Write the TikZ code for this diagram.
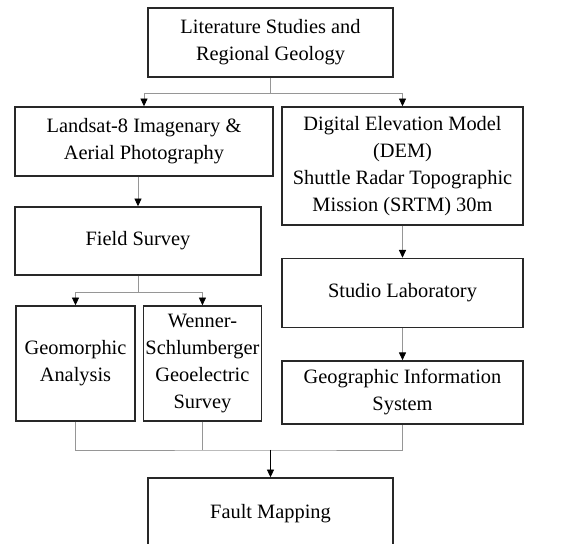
\documentclass[tikz,border=0pt]{standalone}
\usepackage{fontspec}
\setmainfont{Liberation Serif}
\usetikzlibrary{arrows.meta,positioning}
\definecolor{linegray}{RGB}{150,150,150}
\definecolor{boxline}{RGB}{40,40,40}

\begin{document}
\begin{tikzpicture}[x=0.025cm,y=-0.025cm,>={Triangle[length=5.5pt,width=5pt,color=black]},font=\fontsize{14.5}{19.3}\selectfont]
 \tikzstyle{box}=[draw=boxline,line width=1pt,align=center,inner sep=2pt]
 \tikzstyle{link}=[draw=linegray,line width=0.6pt]

 \useasboundingbox (0,0) rectangle (567,544);

   \node[box,minimum width=6.125cm,minimum height=1.725cm] (lit) at (270.5,42.5) {Literature Studies and\\Regional Geology};
   \node[box,minimum width=6.45cm,minimum height=1.725cm] (land) at (144,141.5) {Landsat-8 Imagenary \&\\Aerial Photography};
   \node[box,minimum width=6.025cm,minimum height=2.95cm] (dem) at (402.5,166) {Digital Elevation Model\\(DEM)\\Shuttle Radar Topographic\\Mission (SRTM) 30m};
   \node[box,minimum width=6.15cm,minimum height=1.7cm] (field) at (138,241) {Field Survey};
   \node[box,minimum width=2.975cm,minimum height=2.875cm] (geo) at (75.5,363.5) {Geomorphic\\Analysis};
   \node[box,inner xsep=0pt,minimum width=2.95cm,minimum height=2.875cm] (wen) [right=0.175cm of geo] {Wenner-\\Schlumberger\\Geoelectric\\Survey};
   \node[box,minimum width=6.025cm,minimum height=1.725cm] (studio) [below=0.8cm of dem] {Studio Laboratory};
   \node[box,minimum width=6.025cm,minimum height=1.575cm] (gis) [below=0.8cm of studio] {Geographic Information\\System};
   \node[box,minimum width=6.125cm,minimum height=1.8cm] (fault) at (270.5,514) {Fault Mapping};

   \draw[link] (lit.south) -- ++(0,16) coordinate (top);
   \draw[link,->] (top) -| (land.north);
   \draw[link,->] (top) -| (dem.north);
   \draw[link,->] (land.south -| field.north) -- (field.north);
   \draw[link] (field.south) -- ++(0,17) coordinate (mid);
   \draw[link,->] (mid) -| (geo.north);
   \draw[link,->] (mid) -| (wen.north);
   \draw[link,->] (dem.south) -- (studio.north);
   \draw[link,->] (studio.south) -- (gis.north);

   \coordinate (bot) at (272,450);
   \draw[link] (geo.south) |- (bot) -| (gis.south);
   \draw[link] (wen.south) -- (wen.south |- bot);
   \draw[->,line width=0.6pt] (bot -| fault.north) -- (fault.north);

\end{tikzpicture}
\end{document}
